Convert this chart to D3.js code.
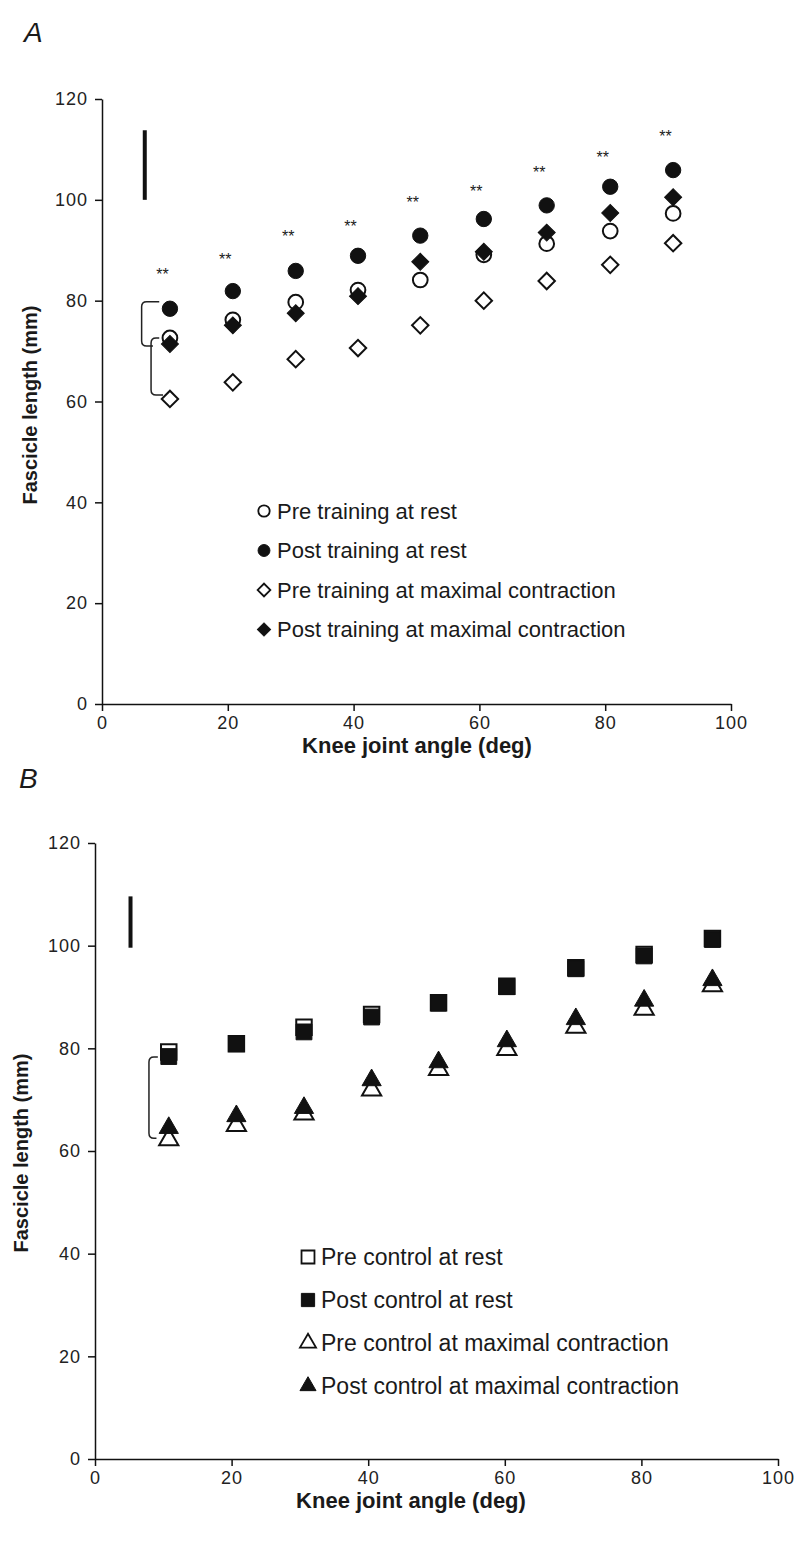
<!DOCTYPE html>
<head>
    <title>fascicle length vs knee angle</title>
    <meta charset="utf-8">
    <style>
    body { margin: 0; background-color: #fff; }
    svg { display: block; }
    text { fill: #1a1a1a; font-family: "Liberation Sans", Arial, sans-serif; }
    .axis path, .axis line { stroke: #111; stroke-width: 1.5; }
    .axis text { font-size: 18px; letter-spacing: 1px; fill: #222; }
    .title { font-weight: bold; text-anchor: middle; }
    .xtitle { font-size: 22px; }
    .ytitle { font-size: 20px; }
    .stars { font-size: 16px; text-anchor: middle; }
    .panel { font-size: 28px; font-style: italic; }
    </style>
    <script src="https://d3js.org/d3.v7.min.js"></script>
</head>
<body>
<script>
// panel A - training group
const anglesA = [10.8, 20.8, 30.8, 40.7, 50.6, 60.7, 70.7, 80.8, 90.8]
const preTrainRest = [72.6, 76.2, 79.7, 82.1, 84.1, 89.1, 91.3, 93.8, 97.3]
const postTrainRest = [78.4, 81.9, 85.9, 88.9, 92.9, 96.2, 98.9, 102.6, 105.9]
const preTrainMax = [60.5, 63.8, 68.4, 70.6, 75.1, 80.0, 83.9, 87.1, 91.4]
const postTrainMax = [71.4, 75.1, 77.5, 80.9, 87.7, 89.7, 93.5, 97.4, 100.5]
const starsA = [85.9, 88.8, 93.4, 95.4, 100.2, 102.4, 106.1, 109.1, 113.2]

// panel B - control group
const anglesB = [10.8, 20.7, 30.6, 40.5, 50.3, 60.3, 70.4, 80.4, 90.4]
const preCtrlRest = [79.3, 80.9, 84.1, 86.6, 88.9, 92.1, 95.7, 98.3, 101.4]
const postCtrlRest = [78.4, 80.9, 83.2, 86.1, 88.8, 92.0, 95.5, 98.0, 101.2]
const preCtrlMax = [62.2, 65.0, 67.2, 71.9, 75.9, 79.8, 84.1, 87.6, 92.2]
const postCtrlMax = [64.5, 66.8, 68.4, 73.8, 77.3, 81.4, 85.7, 89.3, 93.3]

const xTicks = [0, 20, 40, 60, 80, 100]
const yTicks = [0, 20, 40, 60, 80, 100, 120]

// error bar (SD scale) and brackets, in data units
const sdBarA = { x: 6.8, y0: 100, y1: 113.8 }
const sdBarB = { x: 5.2, y0: 99.6, y1: 109.6 }
const bracketsA = [
    { x: 6.3, top: 79.8, bottom: 71.0, xTop: 9.1, xBottom: 8.1 },
    { x: 7.8, top: 72.6, bottom: 61.3, xTop: 9.1, xBottom: 9.7 }
]
const bracketsB = [
    { x: 7.9, top: 78.3, bottom: 62.5, xTop: 9.2, xBottom: 9.0 }
]

const svg = d3.select('body').append('svg')
    .attr('width', 797)
    .attr('height', 1542)

function panel(opts) {
    const x = d3.scaleLinear([0, 100], [opts.left, opts.right])
    const y = d3.scaleLinear([0, 120], [opts.bottom, opts.top])
    const g = svg.append('g')

    g.append('g')
        .attr('class', 'axis')
        .attr('transform', `translate(0,${opts.bottom})`)
        .call(d3.axisBottom(x).tickValues(xTicks).tickSize(7).tickPadding(5).tickSizeOuter(0))
    g.append('g')
        .attr('class', 'axis')
        .attr('transform', `translate(${opts.left},0)`)
        .call(d3.axisLeft(y).tickValues(yTicks).tickSize(7).tickPadding(7).tickSizeOuter(0))

    g.append('text').attr('class', 'title xtitle')
        .attr('x', opts.xTitle[0]).attr('y', opts.xTitle[1])
        .text('Knee joint angle (deg)')
    g.append('text').attr('class', 'title ytitle')
        .attr('transform', `translate(${opts.yTitle[0]},${opts.yTitle[1]}) rotate(-90)`)
        .text('Fascicle length (mm)')
    g.append('text').attr('class', 'panel')
        .attr('x', opts.label[0]).attr('y', opts.label[1])
        .text(opts.name)

    // SD bar
    g.append('line')
        .attr('x1', x(opts.sd.x)).attr('x2', x(opts.sd.x))
        .attr('y1', y(opts.sd.y0)).attr('y2', y(opts.sd.y1))
        .attr('stroke', '#111').attr('stroke-width', 4)

    // brackets
    opts.brackets.forEach(b => {
        const p = d3.path()
        const r = 5
        p.moveTo(x(b.xTop), y(b.top))
        p.lineTo(x(b.x) + r, y(b.top))
        p.quadraticCurveTo(x(b.x), y(b.top), x(b.x), y(b.top) + r)
        p.lineTo(x(b.x), y(b.bottom) - r)
        p.quadraticCurveTo(x(b.x), y(b.bottom), x(b.x) + r, y(b.bottom))
        p.lineTo(x(b.xBottom), y(b.bottom))
        g.append('path').attr('d', p.toString())
            .attr('fill', 'none').attr('stroke', '#222').attr('stroke-width', 1.5)
    })

    opts.series.forEach(s => {
        const sym = d3.symbol().type(s.type).size(s.size)
        g.append('g').selectAll('path')
            .data(s.values)
            .join('path')
            .attr('d', sym)
            .attr('transform', (v, i) => `translate(${x(opts.angles[i])},${y(v)}) rotate(${s.rot || 0})`)
            .attr('fill', s.filled ? '#111' : '#fff')
            .attr('stroke', '#111')
            .attr('stroke-width', s.filled ? 1 : 2)
    })

    // legend
    opts.legend.forEach((s, i) => {
        const ly = opts.legendY + i * opts.legendStep
        const sym = d3.symbol().type(s.type).size(s.size * opts.legendScale)
        g.append('path')
            .attr('d', sym)
            .attr('transform', `translate(${opts.legendX},${ly}) rotate(${s.rot || 0})`)
            .attr('fill', s.filled ? '#111' : '#fff')
            .attr('stroke', '#111')
            .attr('stroke-width', s.filled ? 1 : 1.8)
        g.append('text')
            .attr('x', opts.legendX + 13).attr('y', ly)
            .attr('dy', '0.36em')
            .style('font-size', opts.legendFont + 'px')
            .text(s.label)
    })

    return { x, y, g }
}

const openCircle = { type: d3.symbolCircle, size: 170, filled: false, label: 'Pre training at rest' }
const fullCircle = { type: d3.symbolCircle, size: 185, filled: true, label: 'Post training at rest' }
const openDiamond = { type: d3.symbolSquare, size: 135, rot: 45, filled: false, label: 'Pre training at maximal contraction' }
const fullDiamond = { type: d3.symbolSquare, size: 145, rot: 45, filled: true, label: 'Post training at maximal contraction' }

const a = panel({
    name: 'A', label: [24, 42],
    left: 102, right: 731, top: 99, bottom: 704,
    xTitle: [417, 753], yTitle: [37, 405],
    angles: anglesA, sd: sdBarA, brackets: bracketsA,
    series: [
        Object.assign({ values: preTrainRest }, openCircle),
        Object.assign({ values: preTrainMax }, openDiamond),
        Object.assign({ values: postTrainMax }, fullDiamond),
        Object.assign({ values: postTrainRest }, fullCircle)
    ],
    legend: [openCircle, fullCircle, openDiamond, fullDiamond],
    legendX: 264, legendY: 511, legendStep: 39.5, legendScale: 0.6, legendFont: 22
})

a.g.append('g').selectAll('text')
    .data(starsA)
    .join('text')
    .attr('class', 'stars')
    .attr('x', (v, i) => a.x(anglesA[i] - 1.2))
    .attr('y', v => a.y(v))
    .attr('dy', '0.55em')
    .text('**')

const openSquare = { type: d3.symbolSquare, size: 240, filled: false, label: 'Pre control at rest' }
const fullSquare = { type: d3.symbolSquare, size: 250, filled: true, label: 'Post control at rest' }
const openTri = { type: d3.symbolTriangle, size: 160, filled: false, label: 'Pre control at maximal contraction' }
const fullTri = { type: d3.symbolTriangle, size: 160, filled: true, label: 'Post control at maximal contraction' }

panel({
    name: 'B', label: [19, 788],
    left: 95, right: 778, top: 843, bottom: 1459,
    xTitle: [411, 1508], yTitle: [28, 1153],
    angles: anglesB, sd: sdBarB, brackets: bracketsB,
    series: [
        Object.assign({ values: preCtrlRest }, openSquare),
        Object.assign({ values: postCtrlRest }, fullSquare),
        Object.assign({ values: preCtrlMax }, openTri),
        Object.assign({ values: postCtrlMax }, fullTri)
    ],
    legend: [openSquare, fullSquare, openTri, fullTri],
    legendX: 308, legendY: 1257, legendStep: 43, legendScale: 0.7, legendFont: 23
})
</script>
</body>
</html>
